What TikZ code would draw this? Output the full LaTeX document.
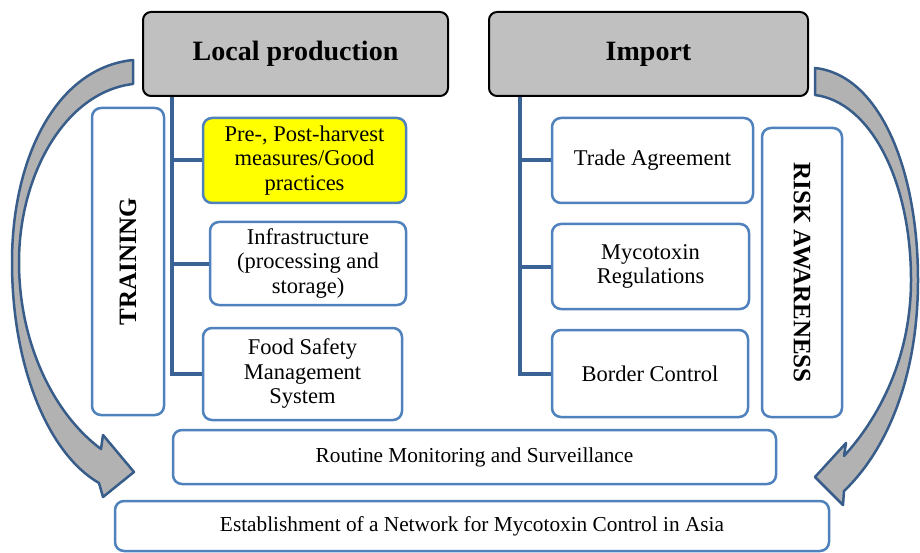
\documentclass[tikz,border=0pt]{standalone}
\usepackage{fontspec}
\setmainfont{Liberation Serif}
\definecolor{boxblue}{RGB}{79,129,189}
\definecolor{linkblue}{RGB}{58,98,148}
\definecolor{arrowedge}{RGB}{56,93,138}
\definecolor{arrowfill}{RGB}{178,178,178}
\definecolor{headfill}{RGB}{192,192,192}
\definecolor{yel}{RGB}{255,255,0}
\tikzset{
  headbox/.style={draw=black, line width=2pt, fill=headfill, rounded corners=8pt, inner sep=0pt,
    font=\fontsize{28}{32}\selectfont\bfseries},
  itembox/.style={draw=boxblue, line width=2.5pt, fill=white, rounded corners=9pt, inner sep=0pt,
    align=center, font=\fontsize{22.5}{24.5}\selectfont},
  barbox/.style={draw=boxblue, line width=2.5pt, fill=white, rounded corners=9pt, inner sep=0pt,
    align=center, font=\fontsize{21.3}{24}\selectfont},
  sidebox/.style={draw=boxblue, line width=2.5pt, fill=white, rounded corners=9pt, inner sep=0pt},
  sidetext/.style={font=\fontsize{25}{28}\selectfont\bfseries, inner sep=0pt},
  trunk/.style={draw=linkblue, line width=4pt},
  bigarrow/.style={draw=arrowedge, line width=2.5pt, fill=arrowfill, line join=round},
}
\begin{document}
\begin{tikzpicture}[x=1pt,y=-1pt]
\useasboundingbox (0,0) rectangle (920,553);

% curved arrows
\path[bigarrow] (133,60) .. controls (55,68) and (12,160) .. (12,262)
   .. controls (12,370) and (50,455) .. (99,483) -- (103,497) -- (134,472) -- (103,435) -- (101,449)
   .. controls (55,415) and (19,345) .. (19,262) .. controls (19,175) and (65,92) .. (133,84) -- cycle;
\path[bigarrow] (815,68) .. controls (880,75) and (918,170) .. (918,280)
   .. controls (918,380) and (885,452) .. (844,491) -- (843,505) -- (815,477) -- (846,443) -- (844,456)
   .. controls (877,420) and (911,360) .. (911,280) .. controls (911,180) and (870,102) .. (815,95) -- cycle;

% headings
\node[headbox, minimum width=305pt, minimum height=84pt] (lp) at (295.5,54) {Local production};
\node[headbox, minimum width=319pt, minimum height=84pt] (imp) at (648.5,54) {Import};

% left column
\node[itembox, fill=yel, minimum width=203pt, minimum height=85pt] (pre) at (304.5,160.5)
  {Pre-, Post-harvest\\measures/Good\\practices};
\node[itembox, minimum width=196pt, minimum height=83pt] (infra) at (308,263.5)
  {Infrastructure\\(processing and\\storage)};
\node[itembox, minimum width=199pt, minimum height=92pt] (fs) at (302.5,374)
  {Food Safety\\Management\\System};

% right column
\node[itembox, minimum width=201pt, minimum height=85pt] (trade) at (652.5,160.5) {Trade Agreement};
\node[itembox, minimum width=197pt, minimum height=85pt] (myco) at (650.5,266.5) {Mycotoxin\\Regulations};
\node[itembox, minimum width=196pt, minimum height=87pt] (bord) at (650,373.5) {Border Control};

% side boxes
\node[sidebox, minimum width=72pt, minimum height=307pt] (train) at (128,261.5) {};
\node[sidetext, rotate=90] (traintxt) at (train.center) {TRAINING};
\node[sidebox, minimum width=80pt, minimum height=289pt] (risk) at (802,272.5) {};
\node[sidetext, rotate=-90] (risktxt) at (risk.center) {RISK AWARENESS};

% bottom bars
\node[barbox, minimum width=603pt, minimum height=54pt] (rout) at (474.5,457) {Routine Monitoring and Surveillance};
\node[barbox, minimum width=714pt, minimum height=50pt] (est) at (472,526) {Establishment of a Network for Mycotoxin Control in Asia};

% trunks
\draw[trunk] ([xshift=30pt]lp.south west) |- (pre.west);
\draw[trunk] ([xshift=30pt]lp.south west) |- (infra.west);
\draw[trunk] ([xshift=30pt]lp.south west) |- (fs.west);
\draw[trunk] ([xshift=32pt]imp.south west) |- (trade.west);
\draw[trunk] ([xshift=32pt]imp.south west) |- (myco.west);
\draw[trunk] ([xshift=32pt]imp.south west) |- (bord.west);
\end{tikzpicture}
\end{document}
